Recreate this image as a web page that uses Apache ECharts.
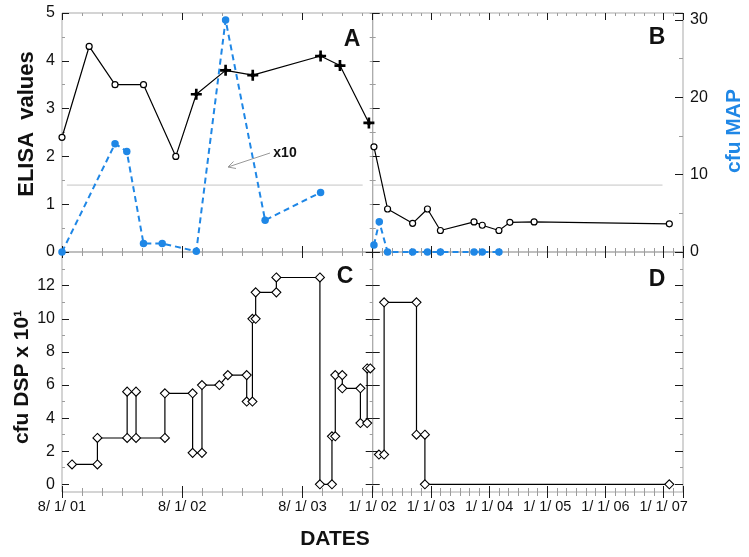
<!DOCTYPE html>
<html><head><meta charset="utf-8">
<script src="https://cdn.jsdelivr.net/npm/echarts@6/dist/echarts.min.js"></script>
<style>html,body{margin:0;padding:0;background:#fff}#c{width:749px;height:557px}</style>
</head><body><div id="c"></div>
<script>
// ---------- DATA ----------
// Panel A (left time range, origin 8/1/01)
const elisaA_dates = ['2001-08-01','2001-10-23','2002-01-10','2002-04-05','2002-07-12','2002-09-13','2002-12-11','2003-03-02','2003-09-25','2003-11-23','2004-02-19'];
const elisaA_values = [2.4,4.3,3.5,3.5,2.0,3.3,3.8,3.7,4.1,3.9,2.7];
const elisaA_marker = ['o','o','o','o','o','+','+','+','+','+','+'];
const mapA_dates = ['2001-08-01','2002-01-10','2002-02-14','2002-04-05','2002-06-01','2002-09-13','2002-12-11','2003-04-09','2003-09-25'];
const mapA_values = [0,14.0,13.0,1.1,1.1,0.1,30.0,4.1,7.7];
// Panel B (right time range, origin 1/1/02)
const elisaB_dates = ['2002-01-09','2002-04-03','2002-09-08','2002-12-10','2003-02-28','2003-09-28','2003-11-19','2004-03-02','2004-05-10','2004-10-10','2007-02-06'];
const elisaB_values = [2.2,0.9,0.6,0.9,0.45,0.63,0.56,0.45,0.62,0.63,0.59];
const mapB_dates = ['2002-01-09','2002-02-11','2002-04-03','2002-09-08','2002-12-10','2003-02-28','2003-09-28','2003-11-19','2004-03-02'];
const mapB_values = [0.9,3.9,0,0,0,0,0,0,0];
// ELISA cut-off line
const cutoffValue = 1.4;
const cutoffA_dates = ['2001-08-16','2004-02-01'];
const cutoffB_dates = ['2002-01-01','2006-12-25'];
// Panel C (DSP, left range)
const dspC_dates = ['2001-09-01','2001-11-17','2001-11-17','2002-02-15','2002-02-15','2002-03-13','2002-03-13','2002-06-09','2002-06-09','2002-09-02','2002-09-02','2002-09-30','2002-09-30','2002-11-22','2002-12-18','2003-02-13','2003-02-13','2003-03-01','2003-03-01','2003-03-11','2003-03-11','2003-05-13','2003-05-13','2003-09-23','2003-09-23','2003-10-30','2003-10-30','2003-11-09','2003-11-09','2003-11-30','2003-11-30','2004-01-25','2004-01-25','2004-02-14','2004-02-14','2004-02-23'];
const dspC_values = [1.2,1.2,2.8,2.8,5.6,5.6,2.8,2.8,5.5,5.5,1.9,1.9,6.0,6.0,6.6,6.6,5.0,5.0,10.0,10.0,11.6,11.6,12.5,12.5,0,0,2.9,2.9,6.6,6.6,5.8,5.8,3.7,3.7,7.0,7.0];
// Panel D (DSP, right range)
const dspD_dates = ['2002-02-09','2002-03-12','2002-03-12','2002-10-02','2002-10-02','2002-11-24','2002-11-24','2007-02-06'];
const dspD_values = [1.8,1.8,11.0,11.0,3.0,3.0,0,0];
// Axes
const leftRange = ['2001-08-01','2004-03-01'];
const rightRange = ['2002-01-01','2007-05-01'];
const xTickDatesLeft = ['2001-08-01','2002-08-01','2003-08-01'];
const xLabelsLeft = ['8/ 1/ 01','8/ 1/ 02','8/ 1/ 03'];
const xTickDatesRight = ['2002-01-01','2003-01-01','2004-01-01','2005-01-01','2006-01-01','2007-01-01'];
const xLabelsRight = ['1/ 1/ 02','1/ 1/ 03','1/ 1/ 04','1/ 1/ 05','1/ 1/ 06','1/ 1/ 07'];
const elisaTicks = [0,1,2,3,4,5];
const mapTicks = [0,10,20,30];
const dspTicks = [0,2,4,6,8,10,12];

// ---------- HELPERS ----------
function parse(s){ return s.split('-').map(Number); }
function mo(s, originStr){
  const [y,m,d] = parse(s); const [oy,om] = parse(originStr);
  const dim = new Date(y, m, 0).getDate();
  return (y-oy)*12 + (m-om) + (d-1)/dim;
}
const L0 = leftRange[0], R0 = rightRange[0];
const LMAX = mo(leftRange[1], L0), RMAX = mo(rightRange[1], R0);
const BLUE = '#1f87e6', DARK = '#1a1a1a', GRAY = '#9c9c9c', FRAME = '#a9a9a9';
const FONT = "'Liberation Sans',Arial,sans-serif";

const xAxis = [], yAxis = [];
function mk(grid, min, max, pos, o){
  o = o || {};
  const a = {type:'value', gridIndex:grid, min:min, max:max, position:pos, silent:true,
    axisLine:{show:false, onZero:false}, splitLine:{show:false}, axisPointer:{show:false},
    axisTick: o.interval ? {show:true, inside:!!o.inside, length:o.len, lineStyle:{color:o.color, width:1}} : {show:false},
    axisLabel: o.fmt ? {show:true, formatter:o.fmt, margin:o.margin, color:'#111', fontSize:o.fs||16, fontFamily:FONT, showMaxLabel:true, showMinLabel:true} : {show:false}
  };
  if (o.interval) a.interval = o.interval;
  return a;
}
function X(g,min,max,pos,o){ xAxis.push(mk(g,min,max,pos,o)); return xAxis.length-1; }
function Y(g,min,max,pos,o){ yAxis.push(mk(g,min,max,pos,o)); return yAxis.length-1; }
function lookup(ticks, labels){ return v => { const i = ticks.findIndex(t=>Math.abs(t-v)<1e-6); return i<0?'':labels[i]; }; }

const xMajL = xTickDatesLeft.map(d=>mo(d,L0));
const xMajR = xTickDatesRight.map(d=>mo(d,R0));
const fmtL = lookup(xMajL, xLabelsLeft);
const fmtR = lookup(xMajR, xLabelsRight);

const EL = [0,5], MP = [0,30.9], DS = [-0.465,14.04], DT = [0,14];
const grids = [
  {left:62, top:13, width:310.7, height:239, show:true},
  {left:372.7, top:13, width:310.3, height:239, show:true},
  {left:62, top:252, width:310.7, height:240, show:true},
  {left:372.7, top:252, width:310.3, height:240, show:true},
  {left:62, top:252.6, width:310.7, height:231.7, show:false},
  {left:372.7, top:252.6, width:310.3, height:231.7, show:false}
].map(g=>Object.assign(g,{borderColor:FRAME, borderWidth:1, backgroundColor:'transparent', containLabel:false}));

const ax = {};
[[0,LMAX,null],[1,RMAX,null],[2,LMAX,fmtL],[3,RMAX,fmtR]].forEach(([g,mx,fmt])=>{
  X(g,0,mx,'bottom',{interval:2, inside:false, len:4, color:GRAY});
  X(g,0,mx,'bottom',{interval:2, inside:true, len:4, color:GRAY});
  const dataX = X(g,0,mx,'bottom',{interval:12, inside:false, len:6, color:DARK, fmt:fmt, margin:7, fs:14.5});
  X(g,0,mx,'bottom',{interval:12, inside:true, len:6, color:DARK});
  if (g<2){
    X(g,0,mx,'top',{interval:2, inside:true, len:3, color:GRAY});
    X(g,0,mx,'top',{interval:12, inside:true, len:7, color:DARK});
  }
  ax[g] = {x:dataX};
});
const intLabel = (ticks) => v => ticks.some(t=>Math.abs(t-v)<1e-6) ? String(v) : '';
// A
Y(0,EL[0],EL[1],'left',{interval:0.5, inside:true, len:3, color:GRAY});
Y(0,EL[0],EL[1],'right',{interval:0.5, inside:true, len:3, color:GRAY});
ax[0].y = Y(0,EL[0],EL[1],'left',{interval:1, inside:true, len:7, color:DARK, fmt:intLabel(elisaTicks), margin:7});
ax[0].m = Y(0,MP[0],MP[1],'right',{});
// B
Y(1,EL[0],EL[1],'left',{interval:0.5, inside:true, len:3, color:GRAY});
ax[1].y = Y(1,EL[0],EL[1],'left',{interval:1, inside:true, len:7, color:DARK});
Y(1,MP[0],MP[1],'right',{interval:5, inside:true, len:4, color:GRAY});
ax[1].m = Y(1,MP[0],MP[1],'right',{interval:10, inside:true, len:8, color:DARK, fmt:intLabel(mapTicks), margin:7});
// C, D data axes (full frame)
ax[2].y = Y(2,DS[0],DS[1],'left',{});
ax[3].y = Y(3,DS[0],DS[1],'left',{});
// C, D tick grids (0..14)
X(4,0,1,'bottom',{}); X(5,0,1,'bottom',{});
Y(4,DT[0],DT[1],'left',{interval:1, inside:true, len:3, color:GRAY});
Y(4,DT[0],DT[1],'left',{interval:2, inside:true, len:7, color:DARK, fmt:intLabel(dspTicks), margin:7});
Y(4,DT[0],DT[1],'right',{interval:1, inside:true, len:3, color:GRAY});
Y(4,DT[0],DT[1],'right',{interval:2, inside:true, len:7, color:DARK});
Y(5,DT[0],DT[1],'left',{interval:2, inside:true, len:7, color:DARK});
Y(5,DT[0],DT[1],'right',{interval:1, inside:true, len:3, color:GRAY});
Y(5,DT[0],DT[1],'right',{interval:2, inside:true, len:8, color:DARK});

const CROSS = 'path://M3.8,0 L6.2,0 L6.2,3.8 L10,3.8 L10,6.2 L6.2,6.2 L6.2,10 L3.8,10 L3.8,6.2 L0,6.2 L0,3.8 L3.8,3.8 Z M5,2 L8,5 L5,8 L2,5 Z';
const series = [];
function cutoff(g, dates, origin){
  series.push({type:'line', xAxisIndex:ax[g].x, yAxisIndex:ax[g].y, data:dates.map(d=>[mo(d,origin),cutoffValue]),
    showSymbol:false, symbol:'none', lineStyle:{color:'#c4c4c4', width:1}, z:1, silent:true});
}
function blue(g, dates, vals, origin){
  series.push({type:'line', xAxisIndex:ax[g].x, yAxisIndex:ax[g].m, data:dates.map((d,i)=>[mo(d,origin),vals[i]]),
    symbol:'circle', symbolSize:7.5, itemStyle:{color:BLUE}, lineStyle:{color:BLUE, width:2, type:[6,4]}, z:2, silent:true});
}
function elisa(g, dates, vals, marks, origin){
  series.push({type:'line', xAxisIndex:ax[g].x, yAxisIndex:ax[g].y,
    data:dates.map((d,i)=>{ const plus = marks && marks[i]==='+';
      return {value:[mo(d,origin),vals[i]], symbol: plus?CROSS:'circle', symbolSize: plus?11:6,
        itemStyle: plus?{color:'#000', borderWidth:0}:{color:'#fff', borderColor:'#000', borderWidth:1.2}}; }),
    lineStyle:{color:'#000', width:1.2}, z:3, silent:true});
}
function dsp(g, dates, vals, origin){
  series.push({type:'line', xAxisIndex:ax[g].x, yAxisIndex:ax[g].y, data:dates.map((d,i)=>[mo(d,origin),vals[i]]),
    symbol:'diamond', symbolSize:9, itemStyle:{color:'#fff', borderColor:'#000', borderWidth:1.1},
    lineStyle:{color:'#000', width:1.2}, z:3, silent:true});
}
cutoff(0, cutoffA_dates, L0); cutoff(1, cutoffB_dates, R0);
blue(0, mapA_dates, mapA_values, L0); blue(1, mapB_dates, mapB_values, R0);
elisa(0, elisaA_dates, elisaA_values, elisaA_marker, L0);
elisa(1, elisaB_dates, elisaB_values, null, R0);
dsp(2, dspC_dates, dspC_values, L0); dsp(3, dspD_dates, dspD_values, R0);

function txt(x,y,text,size,opts){ opts=opts||{};
  return {type:'text', x:x, y:y, rotation:opts.rot||0, z:10, silent:true,
    style:{text:text, fontSize:size, fontWeight:opts.w||'bold', fontFamily:FONT, fill:opts.fill||'#111',
      align:'center', verticalAlign:'middle', textAlign:'center', textVerticalAlign:'middle'}};
}
const graphic = [
  txt(27,124,'ELISA  values',22,{rot:Math.PI/2}),
  txt(734,131,'cfu MAP',21,{rot:Math.PI/2, fill:BLUE}),
  txt(22,377,'cfu DSP x 10\u00B9',21,{rot:Math.PI/2}),
  txt(335,539,'DATES',21),
  txt(352,40,'A',23), txt(657,38,'B',23), txt(345,277,'C',23), txt(657,280,'D',23),
  txt(285,153,'x10',14),
  {type:'line', silent:true, z:9, shape:{x1:270,y1:153,x2:228,y2:167}, style:{stroke:'#999', lineWidth:1}},
  {type:'polyline', silent:true, z:9, shape:{points:[[236,168.5],[228,167],[233.5,161.5]]}, style:{stroke:'#999', lineWidth:1, fill:null}}
];

const chart = echarts.init(document.getElementById('c'), null, {renderer:'canvas'});
chart.setOption({animation:false, backgroundColor:'#fff', grid:grids, xAxis:xAxis, yAxis:yAxis, series:series, graphic:graphic, tooltip:{show:false}});
</script></body></html>
